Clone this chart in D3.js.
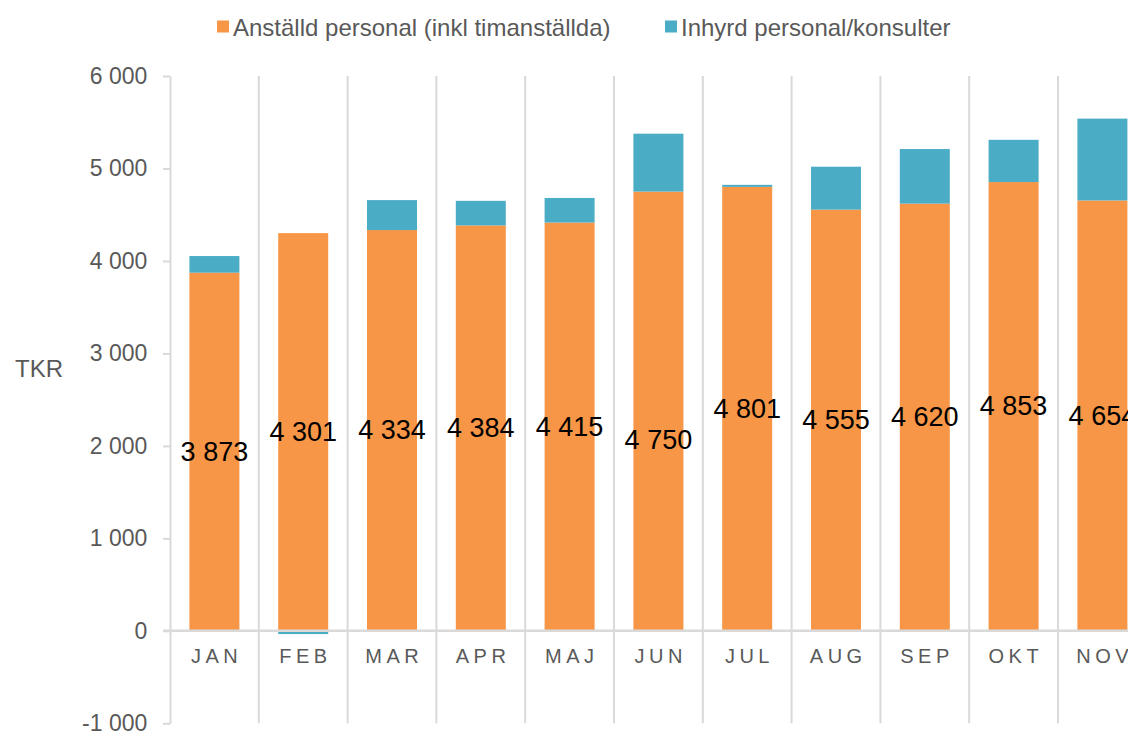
<!DOCTYPE html>
<html>
<head>
<meta charset="utf-8">
<script src="https://cdn.jsdelivr.net/npm/d3@7"></script>
<style>
  body { margin: 0; background: #fff; }
  svg { display: block; font-family: "Liberation Sans", Arial, sans-serif; }
</style>
</head>
<body>
<svg id="chart" width="1128" height="733"></svg>
<script>
// data
const months = ['JAN', 'FEB', 'MAR', 'APR', 'MAJ', 'JUN', 'JUL', 'AUG', 'SEP', 'OKT', 'NOV'];
const anstalld = [3873, 4301, 4334, 4384, 4415, 4750, 4801, 4555, 4620, 4853, 4654];
const inhyrd = [180, -35, 324, 266, 266, 626, 22, 464, 590, 457, 885];
const seriesNames = ['Anställd personal (inkl timanställda)', 'Inhyrd personal/konsulter'];
const seriesColors = ['#F79646', '#4BACC6'];
const yTicks = [-1000, 0, 1000, 2000, 3000, 4000, 5000, 6000];

const svg = d3.select('#chart');
const gray = '#D9D9D9';
const textColor = '#595959';

const plotLeft = 170;
const step = 88.8;

const x = d3.scaleBand()
  .domain(months)
  .range([plotLeft, plotLeft + step * months.length])
  .paddingInner(0.437)
  .paddingOuter(0.437 / 2);

const y = d3.scaleLinear()
  .domain([-1000, 6000])
  .range([723.3, 76]);

const fmt = d3.formatLocale({
  decimal: ',', thousands: ' ', grouping: [3], currency: ['', ''], minus: '-'
}).format(',d');

// vertical separators between months
const bounds = d3.range(1, months.length + 1).map(i => plotLeft + x.step() * i);
svg.append('g')
  .selectAll('line')
  .data(bounds)
  .enter().append('line')
  .attr('x1', d => d).attr('x2', d => d)
  .attr('y1', y(6000)).attr('y2', y(-1000))
  .attr('stroke', gray)
  .attr('stroke-width', 2);

// y axis
const yAxis = svg.append('g')
  .attr('transform', `translate(${plotLeft}, 0)`)
  .call(d3.axisLeft(y)
    .tickValues(yTicks)
    .tickSize(7)
    .tickSizeOuter(0)
    .tickPadding(15.7)
    .tickFormat(fmt));
yAxis.select('.domain').attr('stroke', gray).attr('stroke-width', 2);
yAxis.selectAll('.tick line').attr('stroke', gray).attr('stroke-width', 2);
yAxis.selectAll('.tick text')
  .attr('fill', textColor)
  .style('font-size', '23px')
  .style('font-family', '"Liberation Sans", Arial, sans-serif');

// bars
const g = svg.append('g');
g.selectAll('.bar-a')
  .data(months)
  .enter().append('rect')
  .attr('class', 'bar-a')
  .attr('x', d => x(d))
  .attr('width', x.bandwidth())
  .attr('y', (d, i) => y(anstalld[i]))
  .attr('height', (d, i) => y(0) - y(anstalld[i]))
  .attr('fill', seriesColors[0]);

g.selectAll('.bar-b')
  .data(months)
  .enter().append('rect')
  .attr('class', 'bar-b')
  .attr('x', d => x(d))
  .attr('width', x.bandwidth())
  .attr('y', (d, i) => inhyrd[i] >= 0 ? y(anstalld[i] + inhyrd[i]) : y(0))
  .attr('height', (d, i) => Math.abs(y(0) - y(Math.abs(inhyrd[i]))))
  .attr('fill', seriesColors[1]);

// zero line
svg.append('line')
  .attr('x1', plotLeft - 7).attr('x2', 1128)
  .attr('y1', y(0)).attr('y2', y(0))
  .attr('stroke', gray)
  .attr('stroke-width', 2.5);

// x labels
const xAxis = svg.append('g')
  .attr('transform', `translate(0, ${y(0)})`)
  .call(d3.axisBottom(x).tickSize(0).tickPadding(18));
xAxis.select('.domain').remove();
xAxis.selectAll('.tick text')
  .attr('fill', textColor)
  .attr('dx', '2.25px')
  .style('font-size', '20px')
  .style('letter-spacing', '4.5px')
  .style('font-family', '"Liberation Sans", Arial, sans-serif');

// data labels (middle of the orange bar; JUN label was dragged down in the original)
g.selectAll('.lbl')
  .data(months)
  .enter().append('text')
  .attr('class', 'lbl')
  .attr('x', d => x(d) + x.bandwidth() / 2)
  .attr('y', (d, i) => y(anstalld[i] / 2) + (d === 'JUN' ? 29 : 0))
  .attr('text-anchor', 'middle')
  .attr('dominant-baseline', 'central')
  .style('font-size', '27px')
  .style('fill', '#000')
  .text((d, i) => fmt(anstalld[i]));

// axis title
svg.append('text')
  .attr('x', 15)
  .attr('y', 368)
  .attr('dominant-baseline', 'central')
  .style('font-size', '24px')
  .style('fill', textColor)
  .text('TKR');

// legend
const legendX = [217, 665];
const legend = svg.append('g');
seriesNames.forEach((name, i) => {
  legend.append('rect')
    .attr('x', legendX[i])
    .attr('y', 20.5)
    .attr('width', 12)
    .attr('height', 12)
    .attr('fill', seriesColors[i]);
  legend.append('text')
    .attr('x', legendX[i] + 16)
    .attr('y', 27)
    .attr('dominant-baseline', 'central')
    .style('font-size', '24px')
    .style('fill', textColor)
    .text(name);
});
</script>
</body>
</html>
